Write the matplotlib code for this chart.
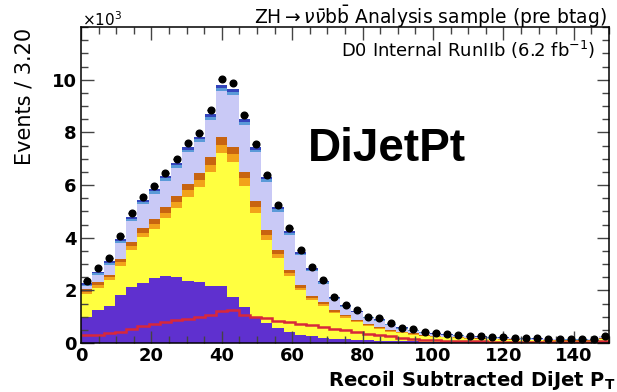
import numpy as np
import matplotlib
matplotlib.use("Agg")
import matplotlib.pyplot as plt
from matplotlib.ticker import MultipleLocator

bin_width = 3.2
n_bins = 47
edges = np.arange(n_bins + 1) * bin_width
centers = edges[:-1] + bin_width / 2

# stacked components (x10^3 events per bin), bottom -> top
purple = [1.00,1.25,1.40,1.83,2.12,2.29,2.46,2.55,2.50,2.37,2.30,2.17,2.15,1.76,1.38,1.00,0.75,0.57,0.40,0.30,
          0.25,0.20,0.17,0.14,0.12,0.10,0.09,0.08,0.07,0.06,0.05,0.05,0.04,0.04,0.03,0.03,0.03,0.02,0.02,0.02,
          0.02,0.02,0.01,0.01,0.01,0.01,0.02]
yellow = [0.86,0.85,0.98,1.11,1.43,1.72,1.88,2.18,2.64,3.18,3.62,4.32,5.07,5.10,4.60,3.95,3.18,2.67,2.14,1.70,
          1.38,1.20,0.96,0.82,0.66,0.54,0.44,0.34,0.30,0.26,0.21,0.18,0.17,0.15,0.14,0.12,0.11,0.11,0.10,0.09,
          0.08,0.07,0.08,0.07,0.07,0.07,0.13]
orange_light = [0.09,0.10,0.11,0.13,0.15,0.17,0.19,0.21,0.23,0.25,0.27,0.28,0.31,0.30,0.27,0.23,0.19,0.15,0.12,0.10,
                0.09,0.08,0.06,0.05,0.05,0.04,0.04,0.03,0.03,0.03,0.02,0.02,0.02,0.02,0.02,0.02,0.01,0.01,0.01,0.01,
                0.01,0.01,0.01,0.01,0.01,0.01,0.02]
orange_dark = [0.09,0.10,0.11,0.13,0.15,0.17,0.19,0.21,0.23,0.25,0.26,0.28,0.31,0.30,0.26,0.22,0.18,0.15,0.12,0.10,
               0.08,0.07,0.06,0.05,0.04,0.04,0.03,0.03,0.02,0.02,0.02,0.02,0.01,0.01,0.01,0.01,0.01,0.01,0.01,0.01,
               0.01,0.01,0.01,0.01,0.01,0.01,0.01]
lavender = [0.13,0.29,0.38,0.60,0.79,0.93,0.95,1.01,1.05,1.19,1.19,1.43,1.72,1.95,1.77,1.84,1.82,1.45,1.33,1.13,
            0.94,0.70,0.42,0.32,0.29,0.22,0.25,0.22,0.13,0.10,0.09,0.08,0.07,0.06,0.05,0.05,0.04,0.04,0.04,0.04,
            0.04,0.04,0.03,0.03,0.03,0.04,0.07]
blue_light = [0.05,0.06,0.06,0.07,0.08,0.08,0.09,0.09,0.10,0.10,0.10,0.11,0.12,0.12,0.11,0.10,0.09,0.08,0.07,0.06,
              0.05,0.05,0.04,0.04,0.03,0.03,0.03,0.02,0.02,0.02,0.02,0.01,0.01,0.01,0.01,0.01,0.01,0.01,0.01,0.01,
              0.01,0.01,0.01,0.01,0.01,0.01,0.01]
blue_dark = [0.05,0.05,0.06,0.07,0.08,0.08,0.09,0.09,0.10,0.10,0.10,0.11,0.12,0.12,0.11,0.10,0.09,0.08,0.07,0.06,
             0.05,0.04,0.04,0.03,0.03,0.02,0.02,0.02,0.02,0.01,0.01,0.01,0.01,0.01,0.01,0.01,0.01,0.01,0.01,0.01,
             0.01,0.01,0.01,0.01,0.01,0.01,0.01]
# overlaid line (not stacked)
red_line = [0.30,0.30,0.37,0.43,0.55,0.65,0.72,0.80,0.87,0.92,0.98,1.05,1.20,1.25,1.08,1.00,0.95,0.85,0.80,0.74,
            0.68,0.62,0.55,0.48,0.42,0.36,0.30,0.25,0.20,0.16,0.13,0.11,0.09,0.08,0.07,0.06,0.05,0.05,0.04,0.04,
            0.04,0.03,0.03,0.03,0.03,0.03,0.06]
# data points
data = [2.35,2.85,3.22,4.07,4.93,5.55,5.97,6.45,6.99,7.60,7.98,8.86,10.02,9.89,8.67,7.57,6.39,5.25,4.37,3.52,
        2.88,2.40,1.75,1.44,1.25,1.00,0.95,0.77,0.58,0.52,0.43,0.38,0.33,0.30,0.28,0.25,0.22,0.22,0.20,0.19,
        0.18,0.17,0.16,0.16,0.15,0.17,0.25]

components = [purple, yellow, orange_light, orange_dark, lavender, blue_light, blue_dark]
colors = ['#5f30cf', '#ffff40', '#f2a21a', '#c86410', '#c9c9f6', '#5a9ad8', '#3444bc']

plt.rcParams['font.family'] = ['DejaVu Sans']
fig = plt.figure(figsize=(6.17, 3.92), dpi=100)
ax = fig.add_axes([81/617, 1-343/392, (609-81)/617, (343-27)/392])

# cumulative stack, drawn top layer first so layers overlap without seams
cum = np.cumsum(np.array(components, dtype=float), axis=0)
for i in range(len(components) - 1, -1, -1):
    ax.stairs(cum[i], edges, baseline=0, fill=True, color=colors[i], linewidth=0)

ax.stairs(red_line, edges, baseline=None, color='#d8283a', linewidth=1.8)

ax.errorbar(centers, data, xerr=bin_width*0.3, fmt='o', color='black', ms=4.8,
            elinewidth=1.0, capsize=0, zorder=5)

ax.set_xlim(0, 150)
ax.set_ylim(0, 12)
ax.xaxis.set_major_locator(MultipleLocator(20))
ax.xaxis.set_minor_locator(MultipleLocator(5))
ax.yaxis.set_minor_locator(MultipleLocator(0.5))
ax.set_yticks([0, 2, 4, 6, 8, 10])
ax.tick_params(which='both', direction='in', top=True, right=True, width=1.0, color='#444444')
ax.tick_params(which='major', length=9, labelsize=13, pad=3)
ax.tick_params(which='minor', length=5)
for lab in ax.get_xticklabels() + ax.get_yticklabels():
    lab.set_fontweight('bold')
for sp in ax.spines.values():
    sp.set_linewidth(1.1)

fig.text(82/617, 1-20/392, r'$\times$10$^{3}$', fontsize=11, ha='left', va='center')
fig.text(607/617, 1-17/392,
         r'ZH$\rightarrow\nu\bar{\nu}\mathrm{b}\bar{\mathrm{b}}$ Analysis sample (pre btag)',
         fontsize=13.5, ha='right', va='center')
fig.text(595/617, 1-50/392, r'D0 Internal RunIIb (6.2 fb$^{-1}$)', fontsize=13, ha='right', va='center')
fig.text(308/617, 1-149/392, 'DiJetPt', fontsize=33, fontweight='bold', family='Liberation Sans',
         ha='left', va='center')
fig.text(24/617, 1-28/392, 'Events / 3.20', rotation=90, fontsize=15, ha='center', va='top')
fig.text(615/617, 1-380/392, r'Recoil Subtracted DiJet P$_{\mathbf{T}}$', fontsize=14, fontweight='bold',
         ha='right', va='center')

fig.savefig('out.png', dpi=100)
